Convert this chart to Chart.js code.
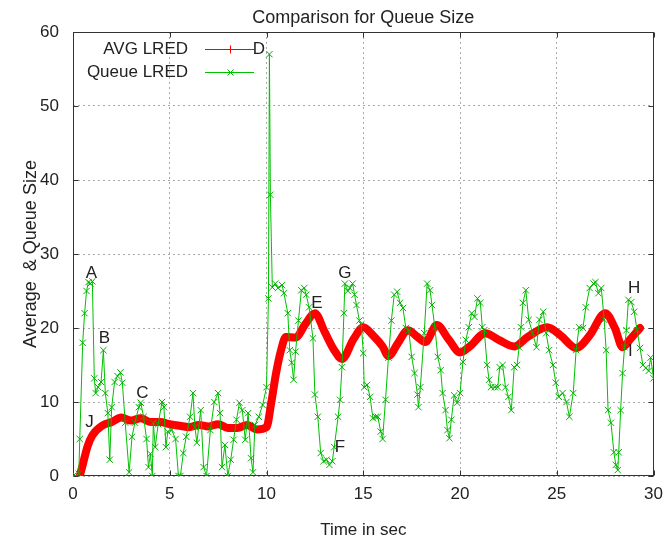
<!DOCTYPE html>
<html><head><meta charset="utf-8">
<script src="https://cdn.jsdelivr.net/npm/chart.js@4.4.1/dist/chart.umd.min.js"></script>
<style>html,body{margin:0;padding:0;background:#fff;}canvas{display:block;}</style>
</head><body>
<canvas id="c" width="671" height="541"></canvas>
<script>
const chartTitle = 'Comparison for Queue Size';
const xTitle = 'Time in sec';
const yTitle = 'Average  & Queue Size';
const seriesNames = ['AVG LRED', 'Queue LRED'];
const xTickStep = 5, xMax = 30, yTickStep = 10, yMax = 60;

// AVG LRED: [time, value]
const avgSamples = [[0.35,0],[0.5,1.5],[0.75,4],[1,5.5],[1.5,6.8],[2,7.3],[2.5,7.9],[3,7.5],[3.5,7.8],[4,7.3],[4.5,7.3],[5,7],[5.5,6.8],[6,6.6],[6.5,6.9],[7,6.7],[7.5,7],[8,6.5],[8.5,6.5],[9,6.9],[9.5,6.3],[10,6.6],[10.25,10],[10.5,14],[10.75,17],[11,18.8],[11.5,18.7],[12,20.5],[12.5,22],[13,19.5],[13.5,17],[13.9,15.8],[14.5,18.5],[15,20.1],[15.5,19],[16,17.5],[16.3,16.2],[16.8,18],[17.3,19.7],[17.8,18.8],[18.2,18.1],[18.8,20.4],[19.4,18.5],[20,16.7],[20.5,17.5],[21.3,19.3],[22,18.4],[22.8,17.5],[23.5,18.8],[24.5,20.1],[25.2,19],[26,17.3],[26.7,19],[27.5,22],[28,20],[28.4,17.4],[28.8,18.5],[29.3,20]];

// Queue LRED: [time, value]
const queueSamples = [[0,0],[0.15,0],[0.3,0.3],[0.35,5],[0.5,18],[0.6,22],[0.7,25],[0.8,26.2],[0.9,26],[1.0,26.3],[1.1,13.2],[1.17,11.2],[1.3,12],[1.45,12.7],[1.57,17],[1.67,11.2],[1.8,8.5],[1.9,2.2],[2.0,9.3],[2.15,12.7],[2.3,13.5],[2.45,14],[2.55,12.6],[2.7,7.2],[2.9,0.5],[3.05,5.3],[3.2,7.2],[3.4,9.3],[3.5,9.9],[3.65,8],[3.8,5],[3.9,1.2],[4.0,3],[4.1,0],[4.15,7.2],[4.25,3.9],[4.4,7],[4.6,10],[4.7,9.3],[4.8,3.9],[4.9,6],[5.1,6.2],[5.3,5],[5.45,0],[5.55,0],[5.7,3.1],[5.85,5.3],[6.05,8],[6.2,11.2],[6.3,6.6],[6.4,4.5],[6.6,8.9],[6.75,1.2],[6.9,0],[7.1,6.2],[7.3,10],[7.5,11.2],[7.6,8.5],[7.7,1.2],[7.85,4.2],[8.0,0],[8.15,2.2],[8.3,4.9],[8.45,7.6],[8.6,9.9],[8.75,8.9],[8.9,4.9],[9.05,8.5],[9.2,2.4],[9.3,0.5],[9.4,6.9],[9.6,8],[9.8,9.6],[10.0,12],[10.1,24],[10.15,57],[10.2,38],[10.3,25.5],[10.45,26],[10.6,25.4],[10.8,25.8],[10.9,24.7],[11.1,22],[11.2,17],[11.3,15.3],[11.4,13],[11.5,16.8],[11.65,21],[11.8,25.1],[11.95,25.4],[12.05,24.5],[12.2,22.8],[12.4,18.6],[12.5,11],[12.65,8],[12.8,3.1],[12.95,2],[13.1,2.2],[13.25,1.5],[13.4,2],[13.5,3.9],[13.7,8],[13.8,10.3],[13.9,14.7],[14.0,22],[14.05,26],[14.2,25],[14.3,25.4],[14.45,26],[14.55,24.5],[14.65,23.1],[14.8,21],[14.9,20.5],[15.0,16.6],[15.05,12],[15.2,12.3],[15.35,10.7],[15.5,7.8],[15.65,8],[15.75,8],[15.9,6],[16.0,5],[16.15,10.3],[16.3,16],[16.45,21],[16.6,24.5],[16.75,24.9],[16.9,23.4],[17.05,22.7],[17.2,20],[17.35,19.7],[17.5,16.1],[17.65,13.9],[17.8,11],[17.85,9.3],[17.95,12],[18.15,19.3],[18.3,26],[18.45,25.1],[18.55,23.1],[18.7,20.1],[18.85,16.1],[19.0,14.3],[19.1,11.2],[19.25,8.9],[19.35,6.2],[19.45,5.1],[19.55,7.6],[19.7,10.9],[19.85,9.9],[20.0,11.2],[20.15,15.4],[20.3,18.4],[20.45,20.1],[20.6,22],[20.75,21.5],[20.9,24],[21.05,23.4],[21.15,20.1],[21.25,19.7],[21.4,15],[21.5,13],[21.6,12],[21.8,12],[21.95,12],[22.05,14.7],[22.2,15],[22.35,12],[22.5,10.7],[22.65,8.9],[22.8,14.7],[22.95,15],[23.05,17.4],[23.15,20.1],[23.25,23.4],[23.4,25.1],[23.55,21.1],[23.75,19.3],[23.95,17.4],[24.1,21.1],[24.3,22.2],[24.45,19.3],[24.6,17],[24.8,15],[24.95,12.6],[25.1,10.7],[25.3,11.2],[25.5,10],[25.65,8],[25.85,11.2],[26.0,17],[26.15,20.1],[26.35,20],[26.5,22.8],[26.7,25.4],[26.9,26],[27.0,26.2],[27.15,24.7],[27.3,25.4],[27.45,21.1],[27.55,17],[27.65,8.9],[27.8,7.2],[27.95,3.2],[28.05,1.5],[28.15,0.8],[28.2,3.2],[28.3,8.9],[28.4,13.9],[28.5,17.4],[28.6,19.7],[28.7,23.8],[28.85,23.5],[29.0,22.2],[29.15,19.7],[29.3,17.3],[29.45,15],[29.6,14.6],[29.75,14.2],[29.85,16],[30.0,13.2]];

// point labels
const noteText  = ['A','B','C','D','E','F','G','H','I','J'];
const noteTime  = [0.95,1.62,3.59,9.6,12.6,13.8,14.05,29.0,28.8,0.85];
const noteValue = [27.4,18.6,11.2,57.7,23.4,3.9,27.4,25.4,16.8,7.3];

const FONT = 'Liberation Sans, Arial, sans-serif';
const TXT = '#222';
const RED = '#ff0000';
const GREEN = '#00c000';

const decor = {
  id: 'decor',
  beforeDatasetsDraw(chart) {
    const {ctx, chartArea: a, scales: {x, y}} = chart;
    ctx.save();
    // title centred over the plot area
    ctx.font = '18px ' + FONT;
    ctx.fillStyle = TXT;
    ctx.textAlign = 'center';
    ctx.textBaseline = 'middle';
    ctx.fillText(chartTitle, (a.left + a.right) / 2, 18);
    // frame and inward ticks
    ctx.strokeStyle = '#333';
    ctx.lineWidth = 1;
    const L = Math.round(a.left) + 0.5, R = Math.round(a.right) - 0.5;
    const T = Math.round(a.top) + 0.5, B = Math.round(a.bottom) - 0.5;
    ctx.strokeRect(L, T, R - L, B - T);
    const tl = 5;
    ctx.beginPath();
    for (const t of x.ticks) {
      const px = Math.round(x.getPixelForValue(t.value)) + 0.5;
      ctx.moveTo(px, B); ctx.lineTo(px, B - tl);
      ctx.moveTo(px, T); ctx.lineTo(px, T + tl);
    }
    for (const t of y.ticks) {
      const py = Math.round(y.getPixelForValue(t.value)) + 0.5;
      ctx.moveTo(L, py); ctx.lineTo(L + tl, py);
      ctx.moveTo(R, py); ctx.lineTo(R - tl, py);
    }
    ctx.stroke();
    ctx.restore();
  },
  afterDatasetsDraw(chart) {
    const {ctx, scales: {x, y}} = chart;
    ctx.save();
    ctx.font = '17px ' + FONT;
    ctx.fillStyle = TXT;
    ctx.textBaseline = 'middle';
    // legend (gnuplot style)
    const rows = [49, 72];
    const colors = [RED, GREEN];
    for (let i = 0; i < 2; i++) {
      ctx.textAlign = 'right';
      ctx.fillStyle = TXT;
      ctx.fillText(seriesNames[i], 188, rows[i]);
      ctx.strokeStyle = colors[i];
      ctx.lineWidth = 1;
      ctx.beginPath();
      ctx.moveTo(205, rows[i] + 0.5); ctx.lineTo(254, rows[i] + 0.5);
      const cx = 230.5, cy = rows[i] + 0.5;
      if (i === 0) {
        ctx.moveTo(cx, cy - 4); ctx.lineTo(cx, cy + 4);
      } else {
        ctx.moveTo(cx - 3, cy - 3); ctx.lineTo(cx + 3, cy + 3);
        ctx.moveTo(cx - 3, cy + 3); ctx.lineTo(cx + 3, cy - 3);
      }
      ctx.stroke();
    }
    // point labels
    ctx.textAlign = 'center';
    ctx.fillStyle = TXT;
    for (let i = 0; i < noteText.length; i++) {
      ctx.fillText(noteText[i], x.getPixelForValue(noteTime[i]), y.getPixelForValue(noteValue[i]));
    }
    ctx.restore();
  }
};

new Chart(document.getElementById('c'), {
  type: 'line',
  data: {
    datasets: [
      {
        label: seriesNames[0],
        data: avgSamples.map(p => ({x: p[0], y: p[1]})),
        borderColor: RED,
        backgroundColor: RED,
        borderWidth: 8,
        borderJoinStyle: 'round',
        borderCapStyle: 'round',
        cubicInterpolationMode: 'monotone',
        pointRadius: 0,
        order: 2
      },
      {
        label: seriesNames[1],
        data: queueSamples.map(p => ({x: p[0], y: p[1]})),
        borderColor: GREEN,
        backgroundColor: GREEN,
        borderWidth: 1,
        tension: 0,
        pointStyle: 'crossRot',
        pointRadius: 4.5,
        pointBorderWidth: 1,
        pointBorderColor: '#00b000',
        order: 1
      }
    ]
  },
  options: {
    responsive: false,
    animation: false,
    devicePixelRatio: 1,
    layout: {padding: {left: 0, right: 10, top: 32, bottom: 0}},
    plugins: {
      legend: {display: false},
      tooltip: {enabled: false},
      title: {display: false}
    },
    scales: {
      x: {
        type: 'linear', min: 0, max: xMax,
        afterFit: s => { s.height = 65; },
        ticks: {stepSize: xTickStep, color: TXT, font: {family: FONT, size: 17}, padding: 8, maxRotation: 0},
        grid: {color: '#aaaaaa', drawTicks: false, borderDash: [2, 3]},
        border: {display: false, dash: [2, 3]},
        title: {display: true, text: xTitle, color: TXT, font: {family: FONT, size: 17}, padding: {top: 0, bottom: 0}}
      },
      y: {
        type: 'linear', min: 0, max: yMax,
        afterFit: s => { s.width = 73; },
        ticks: {stepSize: yTickStep, color: TXT, font: {family: FONT, size: 17}, padding: 14},
        grid: {color: '#aaaaaa', drawTicks: false, borderDash: [2, 3]},
        border: {display: false, dash: [2, 3]},
        title: {display: true, text: yTitle, color: TXT, font: {family: FONT, size: 18}, padding: {top: 20, bottom: 0}}
      }
    }
  },
  plugins: [decor]
});
</script>
</body></html>
